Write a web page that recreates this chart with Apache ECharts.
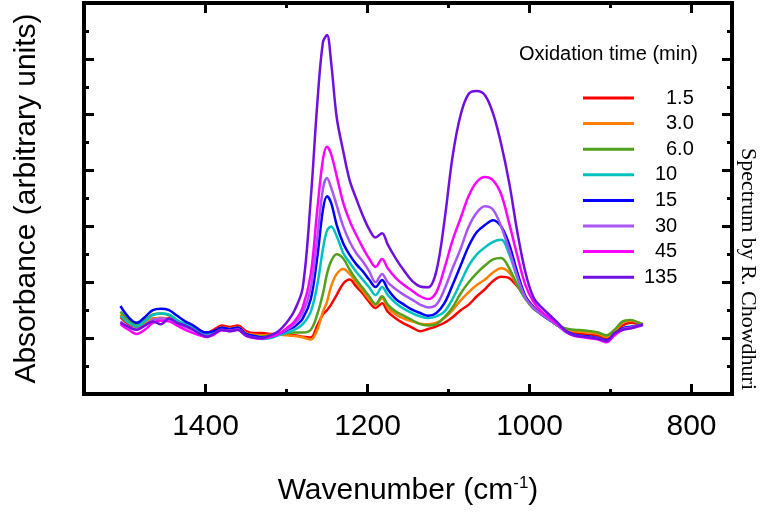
<!DOCTYPE html>
<html><head><meta charset="utf-8">
<script src="https://cdn.jsdelivr.net/npm/echarts@6/dist/echarts.min.js"></script>
<style>html,body{margin:0;padding:0;background:#fff}#c{width:762px;height:519px}</style>
</head><body><div id="c"></div>
<script>
// Wavenumbers (cm-1) sampled along the spectra
var wavenumbers = [1505,1495,1485,1475,1465,1455,1445,1435,1425,1415,1405,1398,1390,1380,1370,1360,1350,1340,1330,1320,1310,1300,1290,1280,1270,1262,1255,1250,1245,1238,1230,1222,1214,1206,1198,1190,1182,1175,1165,1155,1145,1135,1125,1115,1105,1095,1085,1075,1065,1055,1045,1035,1025,1015,1005,995,985,975,965,955,945,935,925,915,905,895,885,875,865,860];

var seriesNames = ['1.5','3.0','6.0','10','15','30','45','135'];

var abs_1_5 = [2.75,2.5,2.4,2.5,2.7,2.72,2.7,2.55,2.45,2.35,2.22,2.2,2.3,2.45,2.4,2.45,2.25,2.18,2.18,2.15,2.15,2.12,2.1,2.05,2.02,2.45,2.85,3.0,3.2,3.55,3.95,4.1,3.85,3.6,3.3,3.08,3.25,2.95,2.7,2.52,2.38,2.25,2.33,2.42,2.55,2.75,3.0,3.2,3.5,3.75,4.05,4.2,4.15,3.85,3.48,3.12,2.85,2.65,2.45,2.3,2.2,2.15,2.12,2.08,1.98,2.15,2.45,2.55,2.5,2.48];
var abs_3_0 = [2.85,2.55,2.42,2.55,2.7,2.72,2.68,2.55,2.45,2.35,2.2,2.15,2.22,2.4,2.35,2.4,2.18,2.12,2.1,2.12,2.12,2.1,2.08,2.03,1.95,2.3,2.95,3.3,3.85,4.3,4.48,4.3,4.0,3.7,3.4,3.19,3.44,3.1,2.85,2.7,2.6,2.52,2.5,2.55,2.72,3.0,3.35,3.65,3.9,4.1,4.35,4.5,4.35,3.9,3.45,3.08,2.85,2.65,2.45,2.32,2.25,2.22,2.2,2.15,2.05,2.25,2.55,2.62,2.55,2.5];
var abs_6_0 = [2.95,2.65,2.5,2.65,2.85,2.88,2.82,2.62,2.5,2.38,2.22,2.16,2.22,2.36,2.32,2.35,2.14,2.08,2.05,2.1,2.15,2.18,2.2,2.2,2.3,2.85,3.6,4.3,4.75,5.0,4.85,4.45,4.1,3.8,3.5,3.22,3.5,3.2,2.95,2.8,2.65,2.5,2.45,2.5,2.75,3.1,3.6,4.0,4.33,4.6,4.82,4.87,4.5,3.9,3.4,3.05,2.85,2.65,2.45,2.35,2.3,2.28,2.25,2.2,2.1,2.3,2.6,2.65,2.55,2.5];
var abs_10 = [2.8,2.55,2.42,2.6,2.82,2.88,2.85,2.65,2.5,2.38,2.2,2.14,2.2,2.35,2.3,2.33,2.1,2.02,1.97,2.0,2.1,2.2,2.3,2.5,2.95,3.9,5.2,5.85,6.0,5.65,5.05,4.7,4.38,4.1,3.82,3.54,3.83,3.55,3.25,3.05,2.9,2.78,2.72,2.78,2.95,3.4,4.0,4.6,5.0,5.25,5.45,5.52,5.0,4.15,3.45,3.1,2.85,2.65,2.45,2.25,2.12,2.08,2.05,2.0,1.92,2.12,2.35,2.42,2.45,2.48];
var abs_15 = [3.15,2.75,2.55,2.75,3.0,3.05,3.0,2.8,2.6,2.45,2.25,2.2,2.25,2.38,2.33,2.38,2.15,2.08,2.02,2.05,2.15,2.28,2.42,2.7,3.4,4.9,6.6,7.08,6.85,6.05,5.4,4.98,4.65,4.4,4.1,3.83,4.08,3.75,3.4,3.2,3.02,2.9,2.8,2.9,3.25,3.9,4.6,5.3,5.8,6.05,6.22,6.0,5.35,4.35,3.5,3.1,2.85,2.65,2.45,2.25,2.12,2.08,2.05,2.0,1.92,2.15,2.35,2.4,2.45,2.48];
var abs_30 = [2.6,2.4,2.3,2.45,2.65,2.7,2.68,2.52,2.4,2.28,2.12,2.08,2.15,2.3,2.27,2.32,2.1,2.02,2.0,2.06,2.15,2.3,2.5,2.9,3.8,5.6,7.35,7.73,7.4,6.75,6.0,5.45,5.05,4.75,4.4,4.0,4.3,4.0,3.75,3.55,3.38,3.2,3.1,3.2,3.75,4.5,5.2,6.0,6.5,6.72,6.6,6.0,5.15,4.2,3.45,3.08,2.85,2.65,2.45,2.22,2.1,2.05,2.02,1.98,1.88,2.12,2.32,2.38,2.45,2.48];
var abs_45 = [2.5,2.3,2.15,2.3,2.55,2.62,2.6,2.45,2.3,2.18,2.08,2.04,2.12,2.28,2.25,2.3,2.08,2.0,1.98,2.05,2.15,2.35,2.6,3.1,4.3,6.6,8.4,8.85,8.6,7.8,6.85,6.2,5.7,5.25,4.85,4.55,4.83,4.5,4.15,3.9,3.7,3.5,3.4,3.65,4.5,5.5,6.3,7.1,7.6,7.77,7.65,7.15,6.1,4.95,3.9,3.3,2.95,2.72,2.5,2.22,2.08,2.04,2.0,1.95,1.85,2.1,2.3,2.35,2.42,2.48];
var abs_135 = [2.55,2.4,2.3,2.45,2.6,2.5,2.7,2.55,2.45,2.3,2.12,2.05,2.15,2.3,2.25,2.3,2.1,2.02,2.0,2.1,2.25,2.55,3.0,3.8,7.0,10.4,12.6,12.85,11.9,9.9,8.7,7.65,7.0,6.4,5.9,5.6,5.76,5.35,4.85,4.42,4.05,3.85,3.82,4.4,6.2,8.5,10.0,10.75,10.85,10.7,10.05,8.95,7.55,5.8,4.35,3.45,3.1,2.82,2.55,2.25,2.1,2.06,2.02,1.98,1.9,2.18,2.3,2.35,2.45,2.48];

var seriesValues = [abs_1_5, abs_3_0, abs_6_0, abs_10, abs_15, abs_30, abs_45, abs_135];
var seriesColors = ['#ff0000','#ff8000','#52a01c','#00c0c0','#0000ff','#a855f7','#ff00ff','#7010e0'];

var majorX = [800,1000,1200,1400];
var minorX = [900,1100,1300];

var FONT = '"Liberation Sans", Arial, Helvetica, sans-serif';
var chart = echarts.init(document.getElementById('c'), null, {renderer:'canvas'});

var axLine = {show:true, lineStyle:{color:'#000', width:4, cap:'square'}};
function xAx(pos, ticks, len, labels, line, extra) {
  var o = {
    type:'value', position:pos, min:750, max:1550, inverse:true,
    axisLine: line ? axLine : {show:false},
    axisTick:{show:true, inside:true, length:len, customValues:ticks, lineStyle:{color:'#000', width:3}},
    axisLabel: labels ? {show:true, customValues:ticks, fontSize:30, color:'#000', fontFamily:FONT, margin:18,
      formatter:function(v){ return String(v); }} : {show:false},
    splitLine:{show:false}
  };
  if (extra) for (var k in extra) o[k] = extra[k];
  return o;
}
function yAx(pos, extra) {
  var o = {
    type:'value', position:pos, min:0, max:14, interval:2,
    axisLine: axLine,
    axisTick:{show:true, inside:true, length:10, lineStyle:{color:'#000', width:3}},
    minorTick:{show:true, splitNumber:2, length:5, lineStyle:{color:'#000', width:3}},
    axisLabel:{show:false}, splitLine:{show:false}, minorSplitLine:{show:false}
  };
  if (extra) for (var k in extra) o[k] = extra[k];
  return o;
}

var series = seriesNames.map(function(n, si){
  return {
    name:n, type:'line', xAxisIndex:0, yAxisIndex:0,
    data: wavenumbers.map(function(w,i){ return [w, seriesValues[si][i]]; }),
    showSymbol:false, smooth:0.35, color:seriesColors[si],
    lineStyle:{width:2.5, color:seriesColors[si]},
    emphasis:{disabled:true}, silent:true
  };
});

chart.setOption({
  animation:false,
  backgroundColor:'#fff',
  grid:{left:84, right:30, top:3, bottom:125, containLabel:false},
  title:{text:'Oxidation time (min)', left:519, top:44, padding:0,
    textStyle:{fontSize:20, fontWeight:'normal', color:'#000', fontFamily:FONT}},
  legend:{
    orient:'vertical', left:583, top:88, padding:0, itemGap:5.6,
    itemWidth:51, itemHeight:3, icon:'rect', selectedMode:false,
    data:seriesNames,
    formatter:function(name){
      // decimal-aligned labels: pad by number of integer digits
      var intLen = name.split('.')[0].length;
      return '{n' + intLen + '|' + name + '}';
    },
    textStyle:{fontSize:20, color:'#000', fontFamily:FONT, lineHeight:20,
      rich:{ n1:{padding:[0,0,0,27], fontSize:20, fontFamily:FONT, color:'#000'},
             n2:{padding:[0,0,0,16], fontSize:20, fontFamily:FONT, color:'#000'},
             n3:{padding:[0,0,0,5], fontSize:20, fontFamily:FONT, color:'#000'} }}
  },
  xAxis:[
    xAx('bottom', majorX, 10, true, true, {
      name:'Wavenumber (cm{sup|-1})', nameLocation:'middle', nameGap:81,
      nameTextStyle:{fontSize:30, color:'#000', fontFamily:FONT,
        rich:{sup:{fontSize:17, color:'#000', fontFamily:FONT, verticalAlign:'top', padding:[0,0,14,0]}}}
    }),
    xAx('bottom', minorX, 5, false, false),
    xAx('top', majorX, 10, false, true),
    xAx('top', minorX, 5, false, false)
  ],
  yAxis:[
    yAx('left', {name:'Absorbance (arbitrary units)', nameLocation:'middle', nameGap:42,
      nameTextStyle:{fontSize:30, color:'#000', fontFamily:FONT}}),
    yAx('right')
  ],
  graphic:[{
    type:'text', x:748, y:269, rotation:-Math.PI/2,
    style:{text:'Spectrum by R. Chowdhuri', fontSize:22, fontFamily:'"Liberation Serif", "Times New Roman", serif',
      fill:'#000', textAlign:'center', textVerticalAlign:'middle'}
  }],
  series:series
});
</script>
</body></html>
